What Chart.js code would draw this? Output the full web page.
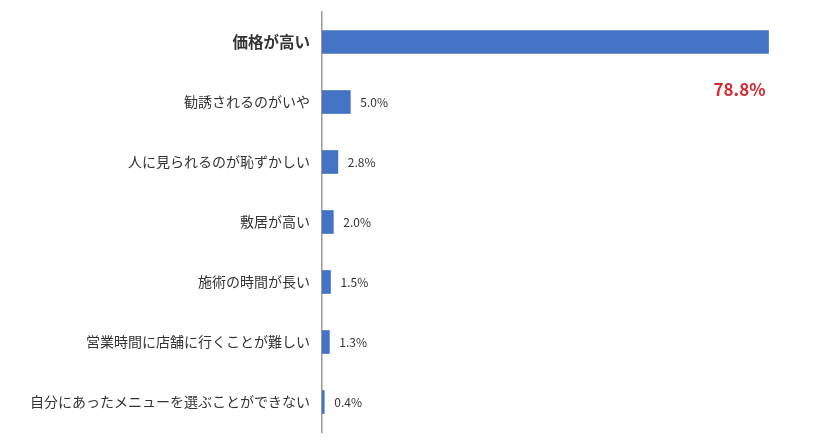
<!DOCTYPE html>
<html><head><meta charset="utf-8">
<script src="https://cdn.jsdelivr.net/npm/chart.js@4/dist/chart.umd.min.js"></script>
<style>html,body{margin:0;padding:0;background:#fff;}#wrap{width:840px;height:441px;}</style>
</head><body><div id="wrap"><canvas id="c" width="840" height="441"></canvas></div>
<script>
const categories = ["価格が高い","勧誘されるのがいや","人に見られるのが恥ずかしい","敷居が高い","施術の時間が長い","営業時間に店舗に行くことが難しい","自分にあったメニューを選ぶことができない"];
const values = [78.8, 5.0, 2.8, 2.0, 1.5, 1.3, 0.4];
const valueLabels = ["78.8%","5.0%","2.8%","2.0%","1.5%","1.3%","0.4%"];

const FONT = "'Noto Sans CJK JP', 'Noto Sans', sans-serif";

const labelPlugin = {
  id: 'valueLabels',
  afterDatasetsDraw(chart) {
    const ctx = chart.ctx;
    const meta = chart.getDatasetMeta(0);
    ctx.save();
    meta.data.forEach((bar, i) => {
      if (i === 0) {
        ctx.font = "bold 17px " + FONT;
        ctx.fillStyle = "#d42a2f";
        ctx.textAlign = "center";
        ctx.textBaseline = "middle";
        ctx.fillText(valueLabels[i], bar.x - 29, bar.y + 48);
      } else {
        ctx.font = "12px " + FONT;
        ctx.fillStyle = "#333333";
        ctx.textAlign = "left";
        ctx.textBaseline = "middle";
        ctx.fillText(valueLabels[i], bar.x + 10, bar.y);
      }
    });
    ctx.restore();
  }
};

new Chart(document.getElementById('c'), {
  type: 'bar',
  data: {
    labels: categories,
    datasets: [{
      data: values,
      backgroundColor: '#4472C4',
      borderWidth: 0,
      barThickness: 23
    }]
  },
  options: {
    indexAxis: 'y',
    responsive: false,
    animation: false,
    layout: { padding: { left: 0, right: 8, top: 12, bottom: 9 } },
    plugins: { legend: { display: false }, tooltip: { enabled: false } },
    scales: {
      x: {
        min: 0, max: 90,
        display: false,
        grid: { display: false }
      },
      y: {
        grid: { display: false, drawTicks: false },
        border: { display: true, color: '#9a9a9a', width: 1.5 },
        ticks: {
          padding: 12,
          color: '#333333',
          font: (ctx) => ({ family: FONT, size: ctx.index === 0 ? 15.5 : 14, weight: ctx.index === 0 ? 'bold' : 'normal' })
        },
        afterFit(scale) { scale.width = 322; scale.paddingTop = 0; scale.paddingBottom = 0; }
      }
    }
  },
  plugins: [labelPlugin]
});
</script>
</body></html>
